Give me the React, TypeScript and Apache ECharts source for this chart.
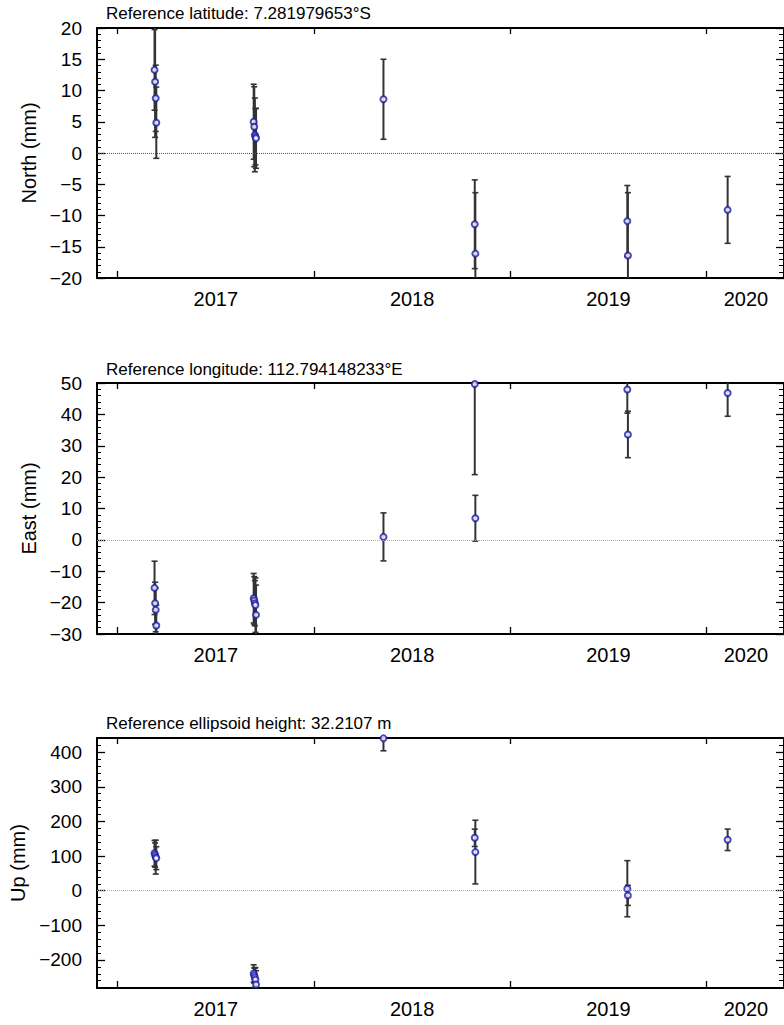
import React, { useEffect, useRef } from "react";
import * as echarts from "echarts";

// ---- data ----
const epochDates = [
  2017.188, 2017.191, 2017.194, 2017.197,
  2017.693, 2017.696, 2017.699, 2017.702, 2017.705,
  2018.354,
  2018.819, 2018.822,
  2019.596, 2019.599,
  2020.107,
];

const northValues = [13.3, 11.4, 8.75, 4.85, 5.0, 4.2, 2.9, 2.6, 2.35, 8.6, -11.4, -16.1, -10.9, -16.4, -9.1];
const northErrors = [6.45, 8.9, 5.3, 5.7, 6.0, 6.4, 5.9, 4.5, 4.8, 6.4, 7.1, 9.75, 5.7, 10.05, 5.35];

const eastValues = [-15.3, -20.2, -22.3, -27.3, -18.6, -19.3, -20.2, -20.8, -23.9, 0.95, 49.7, 6.9, 47.9, 33.6, 46.8];
const eastErrors = [8.5, 6.7, 7.0, 6.5, 7.9, 7.6, 7.2, 8.7, 9.5, 7.65, 28.9, 7.3, 7.5, 7.4, 7.4];

const upValues = [108, 103, 97, 94, -239, -245, -251, -257, -271, 440, 152.7, 111.5, 5.8, -13.5, 147];
const upErrors = [37, 35, 49, 33, 25, 22, 28, 35, 40, 36, 25, 92, 81, 29, 31];

const yearTicks = [2017, 2018, 2019, 2020];
const yearLabels = ["2017", "2018", "2019", "2020"];
const yearLabelPositions = [2017.5, 2018.5, 2019.5, 2020.2];

const northTicks = [-20, -15, -10, -5, 0, 5, 10, 15, 20];
const eastTicks = [-30, -20, -10, 0, 10, 20, 30, 40, 50];
const upTicks = [-200, -100, 0, 100, 200, 300, 400];

const panelTitles = [
  "Reference latitude: 7.281979653°S",
  "Reference longitude: 112.794148233°E",
  "Reference ellipsoid height: 32.2107 m",
];
const panelNames = ["North (mm)", "East (mm)", "Up (mm)"];

// ---- layout / style ----
const X_MIN = 2016.895;
const X_MAX = 2020.394;
const GRID_LEFT = 97;
const GRID_WIDTH = 689;

const panels = [
  { values: northValues, errors: northErrors, min: -20, max: 20, majors: northTicks, minorStep: 1, top: 28, height: 250, titleTop: 5, nameGap: 58, zeroColor: "#555" },
  { values: eastValues, errors: eastErrors, min: -30, max: 50, majors: eastTicks, minorStep: 2, top: 383, height: 251, titleTop: 361, nameGap: 56, zeroColor: "#aaa" },
  { values: upValues, errors: upErrors, min: -281, max: 441, majors: upTicks, minorStep: 20, top: 738, height: 250, titleTop: 715, nameGap: 69, zeroColor: "#aaa" },
];

function minorTicks(min: number, max: number, step: number, majors: number[]) {
  const out: number[] = [];
  const start = Math.ceil(min / step) * step;
  for (let v = start; v <= max + 1e-9; v += step) {
    const r = Math.round(v * 1000) / 1000;
    if (!majors.includes(r)) out.push(r);
  }
  return out;
}

function fmtY(v: number) {
  return v < 0 ? "\u2212" + Math.abs(v) : String(v);
}

function fmtYear(v: number) {
  let best = 0;
  for (let i = 1; i < yearLabelPositions.length; i++) {
    if (Math.abs(yearLabelPositions[i] - v) < Math.abs(yearLabelPositions[best] - v)) best = i;
  }
  return yearLabels[best];
}

function buildOption() {
  const title: any[] = [];
  const grid: any[] = [];
  const xAxis: any[] = [];
  const yAxis: any[] = [];
  const series: any[] = [];
  const axisLine = { show: true, onZero: false, lineStyle: { color: "#000", width: 2 } };

  panels.forEach((p, i) => {
    title.push({
      text: panelTitles[i],
      left: 106,
      top: p.titleTop,
      padding: 0,
      textStyle: { fontSize: 17, fontWeight: "normal", color: "#000", fontFamily: "Liberation Sans" },
    });
    grid.push({ left: GRID_LEFT, top: p.top, width: GRID_WIDTH, height: p.height });

    // bottom x axis
    xAxis.push({
      type: "value", gridIndex: i, position: "bottom", min: X_MIN, max: X_MAX,
      axisLine,
      splitLine: { show: false },
      axisTick: { show: true, inside: true, length: 7, customValues: yearTicks, lineStyle: { color: "#000", width: 1.3 } },
      axisLabel: { show: true, customValues: yearLabelPositions, formatter: fmtYear, fontSize: 20, color: "#000", margin: 11 },
    });
    // top x axis (ticks only)
    xAxis.push({
      type: "value", gridIndex: i, position: "top", min: X_MIN, max: X_MAX,
      axisLine,
      splitLine: { show: false },
      axisTick: { show: true, inside: true, length: 6, customValues: yearTicks, lineStyle: { color: "#000", width: 1.3 } },
      axisLabel: { show: false },
    });

    const minors = minorTicks(p.min, p.max, p.minorStep, p.majors);
    // left major
    yAxis.push({
      type: "value", gridIndex: i, position: "left", min: p.min, max: p.max,
      name: panelNames[i], nameLocation: "middle", nameRotate: 90, nameGap: p.nameGap,
      nameTextStyle: { fontSize: 20, color: "#000" },
      axisLine,
      splitLine: { show: false },
      axisTick: { show: true, inside: true, length: 8, customValues: p.majors, lineStyle: { color: "#000", width: 1.3 } },
      axisLabel: { show: true, customValues: p.majors, formatter: fmtY, fontSize: 19, color: "#000", margin: 15 },
    });
    // left minor
    yAxis.push({
      type: "value", gridIndex: i, position: "left", min: p.min, max: p.max,
      axisLine: { show: false, onZero: false },
      splitLine: { show: false },
      axisTick: { show: true, inside: true, length: 4, customValues: minors, lineStyle: { color: "#000", width: 1 } },
      axisLabel: { show: false },
    });
    // right major
    yAxis.push({
      type: "value", gridIndex: i, position: "right", min: p.min, max: p.max,
      axisLine,
      splitLine: { show: false },
      axisTick: { show: true, inside: true, length: 8, customValues: p.majors, lineStyle: { color: "#000", width: 1.3 } },
      axisLabel: { show: false },
    });
    // right minor
    yAxis.push({
      type: "value", gridIndex: i, position: "right", min: p.min, max: p.max,
      axisLine: { show: false, onZero: false },
      splitLine: { show: false },
      axisTick: { show: true, inside: true, length: 5, customValues: minors, lineStyle: { color: "#000", width: 1 } },
      axisLabel: { show: false },
    });

    const errData = epochDates.map((d, k) => [d, p.values[k], p.errors[k]]);
    const ptData = epochDates.map((d, k) => [d, p.values[k]]);

    series.push({
      type: "custom",
      xAxisIndex: 2 * i,
      yAxisIndex: 4 * i,
      data: errData,
      encode: { x: 0, y: 1 },
      z: 2,
      renderItem: (params: any, api: any) => {
        const x = api.value(0);
        const v = api.value(1);
        const e = api.value(2);
        const hi = api.coord([x, v + e]);
        const lo = api.coord([x, v - e]);
        const cs = params.coordSys;
        const yTop = cs.y;
        const yBot = cs.y + cs.height;
        const ya = Math.max(hi[1], yTop);
        const yb = Math.min(lo[1], yBot);
        const stroke = "#333";
        const children: any[] = [
          { type: "line", shape: { x1: hi[0], y1: ya, x2: hi[0], y2: yb }, style: { stroke, lineWidth: 2 } },
        ];
        const hw = 3;
        if (hi[1] >= yTop) children.push({ type: "line", shape: { x1: hi[0] - hw, y1: hi[1], x2: hi[0] + hw, y2: hi[1] }, style: { stroke, lineWidth: 1.6 } });
        if (lo[1] <= yBot) children.push({ type: "line", shape: { x1: lo[0] - hw, y1: lo[1], x2: lo[0] + hw, y2: lo[1] }, style: { stroke, lineWidth: 1.6 } });
        return { type: "group", children };
      },
    });

    series.push({
      type: "scatter",
      xAxisIndex: 2 * i,
      yAxisIndex: 4 * i,
      data: ptData,
      symbol: "emptyCircle",
      symbolSize: 6,
      z: 3,
      itemStyle: { color: "#1a1aa8", borderColor: "#1a1aa8", borderWidth: 2 },
      markLine: {
        silent: true,
        symbol: ["none", "none"],
        label: { show: false },
        lineStyle: { type: "dotted", color: p.zeroColor, width: 1 },
        data: [{ yAxis: 0 }],
      },
    });
  });

  return {
    animation: false,
    backgroundColor: "#fff",
    textStyle: { fontFamily: "Liberation Sans, Arial, sans-serif", color: "#000" },
    title,
    grid,
    xAxis,
    yAxis,
    series,
  };
}

export default function App() {
  const ref = useRef<HTMLDivElement>(null);
  useEffect(() => {
    if (!ref.current) return;
    const chart = echarts.init(ref.current, null, { renderer: "svg" });
    chart.setOption(buildOption() as any);
    return () => chart.dispose();
  }, []);
  return (
    <div
      ref={ref}
      style={{ position: "absolute", left: 0, top: 0, width: 784, height: 1025, background: "#fff" }}
    />
  );
}
